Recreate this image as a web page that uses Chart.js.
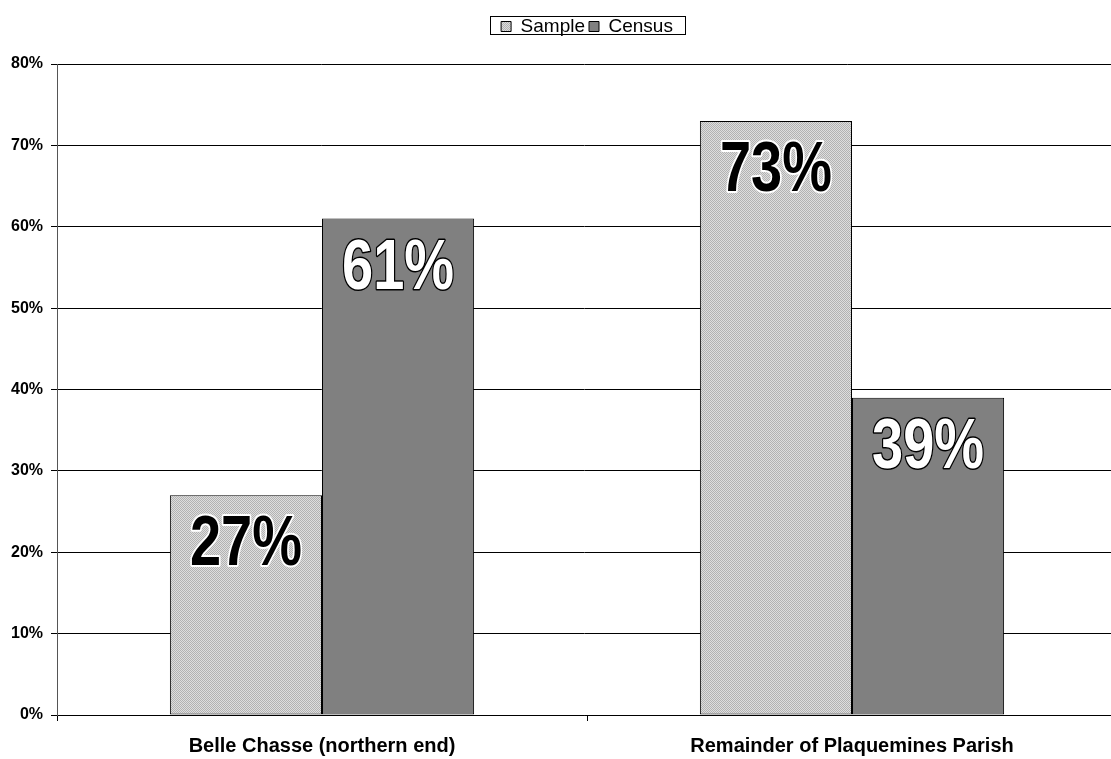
<!DOCTYPE html>
<html>
<head>
<meta charset="utf-8">
<script src="https://cdn.jsdelivr.net/npm/chart.js@4.4.1/dist/chart.umd.min.js"></script>
<style>
  html, body { margin: 0; padding: 0; background: #fff; }
  #wrap { width: 1111px; height: 759px; position: relative; }
</style>
</head>
<body>
<div id="wrap"><canvas id="myChart"></canvas></div>
<script>
const categories = ['Belle Chasse (northern end)', 'Remainder of Plaquemines Parish']
const seriesNames = ['Sample', 'Census']
const sampleValues = [27, 73]
const censusValues = [61, 39]
const yTicks = [0, 10, 20, 30, 40, 50, 60, 70, 80]

// dithered light gray fill like the old office pattern
function makePattern() {
    const c = document.createElement('canvas')
    c.width = 2
    c.height = 2
    const p = c.getContext('2d')
    p.fillStyle = '#dedede'
    p.fillRect(0, 0, 2, 2)
    p.fillStyle = '#b2b2b2'
    p.fillRect(0, 0, 1, 1)
    p.fillRect(1, 1, 1, 1)
    return p.createPattern(c, 'repeat')
}

const el = document.getElementById('myChart')
const ctx = el.getContext('2d')
const samplePattern = makePattern()

const baseFont = 'Arial, "Liberation Sans", sans-serif'
const legendPad = 4

const valueLabels = {
    id: 'valueLabels',
    afterDatasetsDraw(chart) {
        const c = chart.ctx
        chart.data.datasets.forEach((ds, di) => {
            const meta = chart.getDatasetMeta(di)
            meta.data.forEach((bar, i) => {
                const txt = ds.data[i] + '%'
                c.save()
                c.translate(bar.x, bar.y + 70)
                c.scale(0.8, 1)
                c.font = 'bold 70px ' + baseFont
                c.textAlign = 'center'
                c.textBaseline = 'alphabetic'
                c.lineJoin = 'round'
                if (di === 0) {
                    c.lineWidth = 4
                    c.strokeStyle = '#ffffff'
                    c.strokeText(txt, 0, 0)
                    c.fillStyle = '#000000'
                    c.fillText(txt, 0, 0)
                } else {
                    c.lineWidth = 3
                    c.strokeStyle = '#000000'
                    c.strokeText(txt, 0, 0)
                    c.fillStyle = '#ffffff'
                    c.fillText(txt, 0, 0)
                }
                c.restore()
            })
        })
    }
}

// the plot runs a few px past the right edge; legend centred on the plot near the top
const layoutTweaks = {
    id: 'layoutTweaks',
    afterLayout(chart) {
        const xs = chart.scales.x
        xs.right = 1117
        xs.width = xs.right - xs.left
        xs.configure()

        const lg = chart.legend
        if (!lg) return
        const dx = 587 - (lg.left + lg.right) / 2
        const dy = (16 - legendPad + 1) - lg.top
        lg.left += dx
        lg.right += dx
        lg.top += dy
        lg.bottom += dy
    },
    afterDraw(chart) {
        const c = chart.ctx
        c.save()
        c.strokeStyle = '#000'
        c.lineWidth = 1
        c.strokeRect(490.5, 16.5, 195, 18)
        c.restore()
    }
}

const data = {
    labels: categories,
    datasets: [{
        label: seriesNames[0],
        data: sampleValues,
        backgroundColor: samplePattern,
        borderColor: '#000',
        borderWidth: 1,
        borderSkipped: false
    }, {
        label: seriesNames[1],
        data: censusValues,
        backgroundColor: '#808080',
        borderColor: '#000',
        borderWidth: 1,
        borderSkipped: false
    }]
}

const config = {
    type: 'bar',
    data: data,
    options: {
        responsive: true,
        maintainAspectRatio: false,
        animation: false,
        categoryPercentage: 0.574,
        barPercentage: 1,
        layout: { padding: { top: 31, right: 0, bottom: 0, left: 0 } },
        plugins: {
            legend: {
                position: 'top',
                labels: {
                    boxWidth: 10,
                    boxHeight: 10,
                    padding: legendPad,
                    color: '#000',
                    font: { family: baseFont, size: 19 },
                    generateLabels: (chart) => chart.data.datasets.map((ds, i) => ({
                        text: ds.label,
                        fillStyle: ds.backgroundColor,
                        strokeStyle: '#000',
                        lineWidth: 1,
                        datasetIndex: i
                    }))
                }
            },
            tooltip: { enabled: false }
        },
        scales: {
            x: {
                afterFit: (scale) => { scale.height = 44 },
                grid: {
                    offset: true,
                    drawOnChartArea: false,
                    tickLength: 6,
                    color: '#000'
                },
                border: { color: '#000', width: 1 },
                ticks: {
                    color: '#000',
                    padding: 13,
                    font: { family: baseFont, size: 20, weight: 'bold' }
                }
            },
            y: {
                min: 0,
                max: 80,
                afterFit: (scale) => { scale.width = 57 },
                afterBuildTicks: (scale) => { scale.ticks = yTicks.map(v => ({ value: v })) },
                grid: {
                    color: '#000',
                    lineWidth: 1,
                    tickLength: 6
                },
                border: { color: '#555', width: 1 },
                ticks: {
                    color: '#000',
                    padding: 8,
                    font: { family: baseFont, size: 16, weight: 'bold' },
                    callback: (v) => v + '%'
                }
            }
        }
    },
    plugins: [valueLabels, layoutTweaks]
}

const myChart = new Chart(el, config)
</script>
</body>
</html>
